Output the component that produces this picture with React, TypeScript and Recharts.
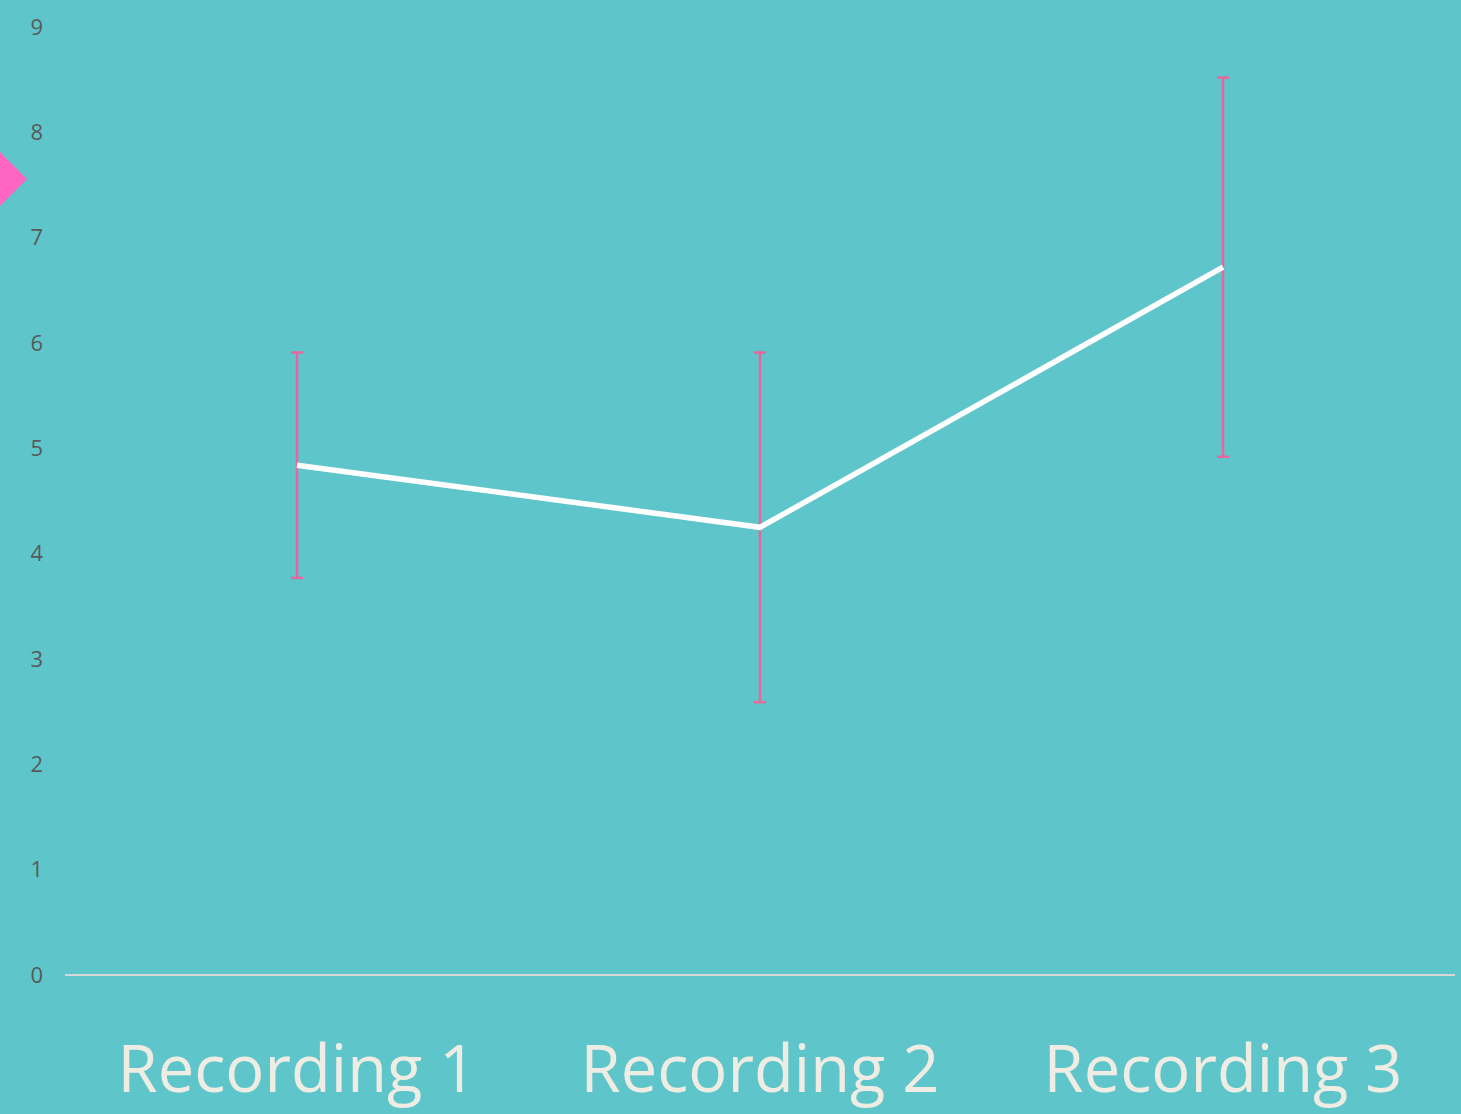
import { LineChart, Line, XAxis, YAxis, ErrorBar } from 'recharts';

const categories = ['Recording 1', 'Recording 2', 'Recording 3'];
const means = [4.84, 4.25, 6.72];
const errors = [1.07, 1.66, 1.8];
const yTicks = [0, 1, 2, 3, 4, 5, 6, 7, 8, 9];

const data = categories.map((name, i) => ({ name, mean: means[i], err: errors[i] }));

export default function App() {
  return (
    <div
      style={{
        position: 'fixed',
        top: 0,
        left: 0,
        width: 1461,
        height: 1114,
        background: '#5EC6CB',
        overflow: 'hidden',
      }}
    >
      {/* legend diamond, only its right half shows at the left edge */}
      <svg
        width={60}
        height={60}
        style={{ position: 'absolute', left: -33, top: 149, display: 'block' }}
      >
        <polygon points="30,0 60,30 30,60 0,30" fill="#FF66C4" />
      </svg>
      <LineChart
        width={1461}
        height={1114}
        data={data}
        margin={{ top: 27, right: 6, bottom: 0, left: 0 }}
      >
        <XAxis
          dataKey="name"
          interval={0}
          padding={{ left: 232, right: 232 }}
          axisLine={{ stroke: '#D9D9D9', strokeWidth: 2 }}
          tickLine={false}
          tickSize={0}
          tickMargin={71}
          height={139}
          tick={{ fill: '#EFEDE3', fontSize: 65, fontFamily: 'Open Sans' }}
        />
        <YAxis
          domain={[0, 9]}
          ticks={yTicks}
          width={65}
          axisLine={false}
          tickLine={false}
          tickSize={0}
          tickMargin={22}
          tick={{ fill: '#595959', fontSize: 22, fontFamily: 'Open Sans' }}
        />
        <Line
          type="linear"
          dataKey="mean"
          stroke="#FFFFFF"
          strokeWidth={5.5}
          dot={false}
          activeDot={false}
          isAnimationActive={false}
        >
          <ErrorBar dataKey="err" stroke="#E8679C" strokeWidth={2.5} width={6} />
        </Line>
      </LineChart>
    </div>
  );
}
